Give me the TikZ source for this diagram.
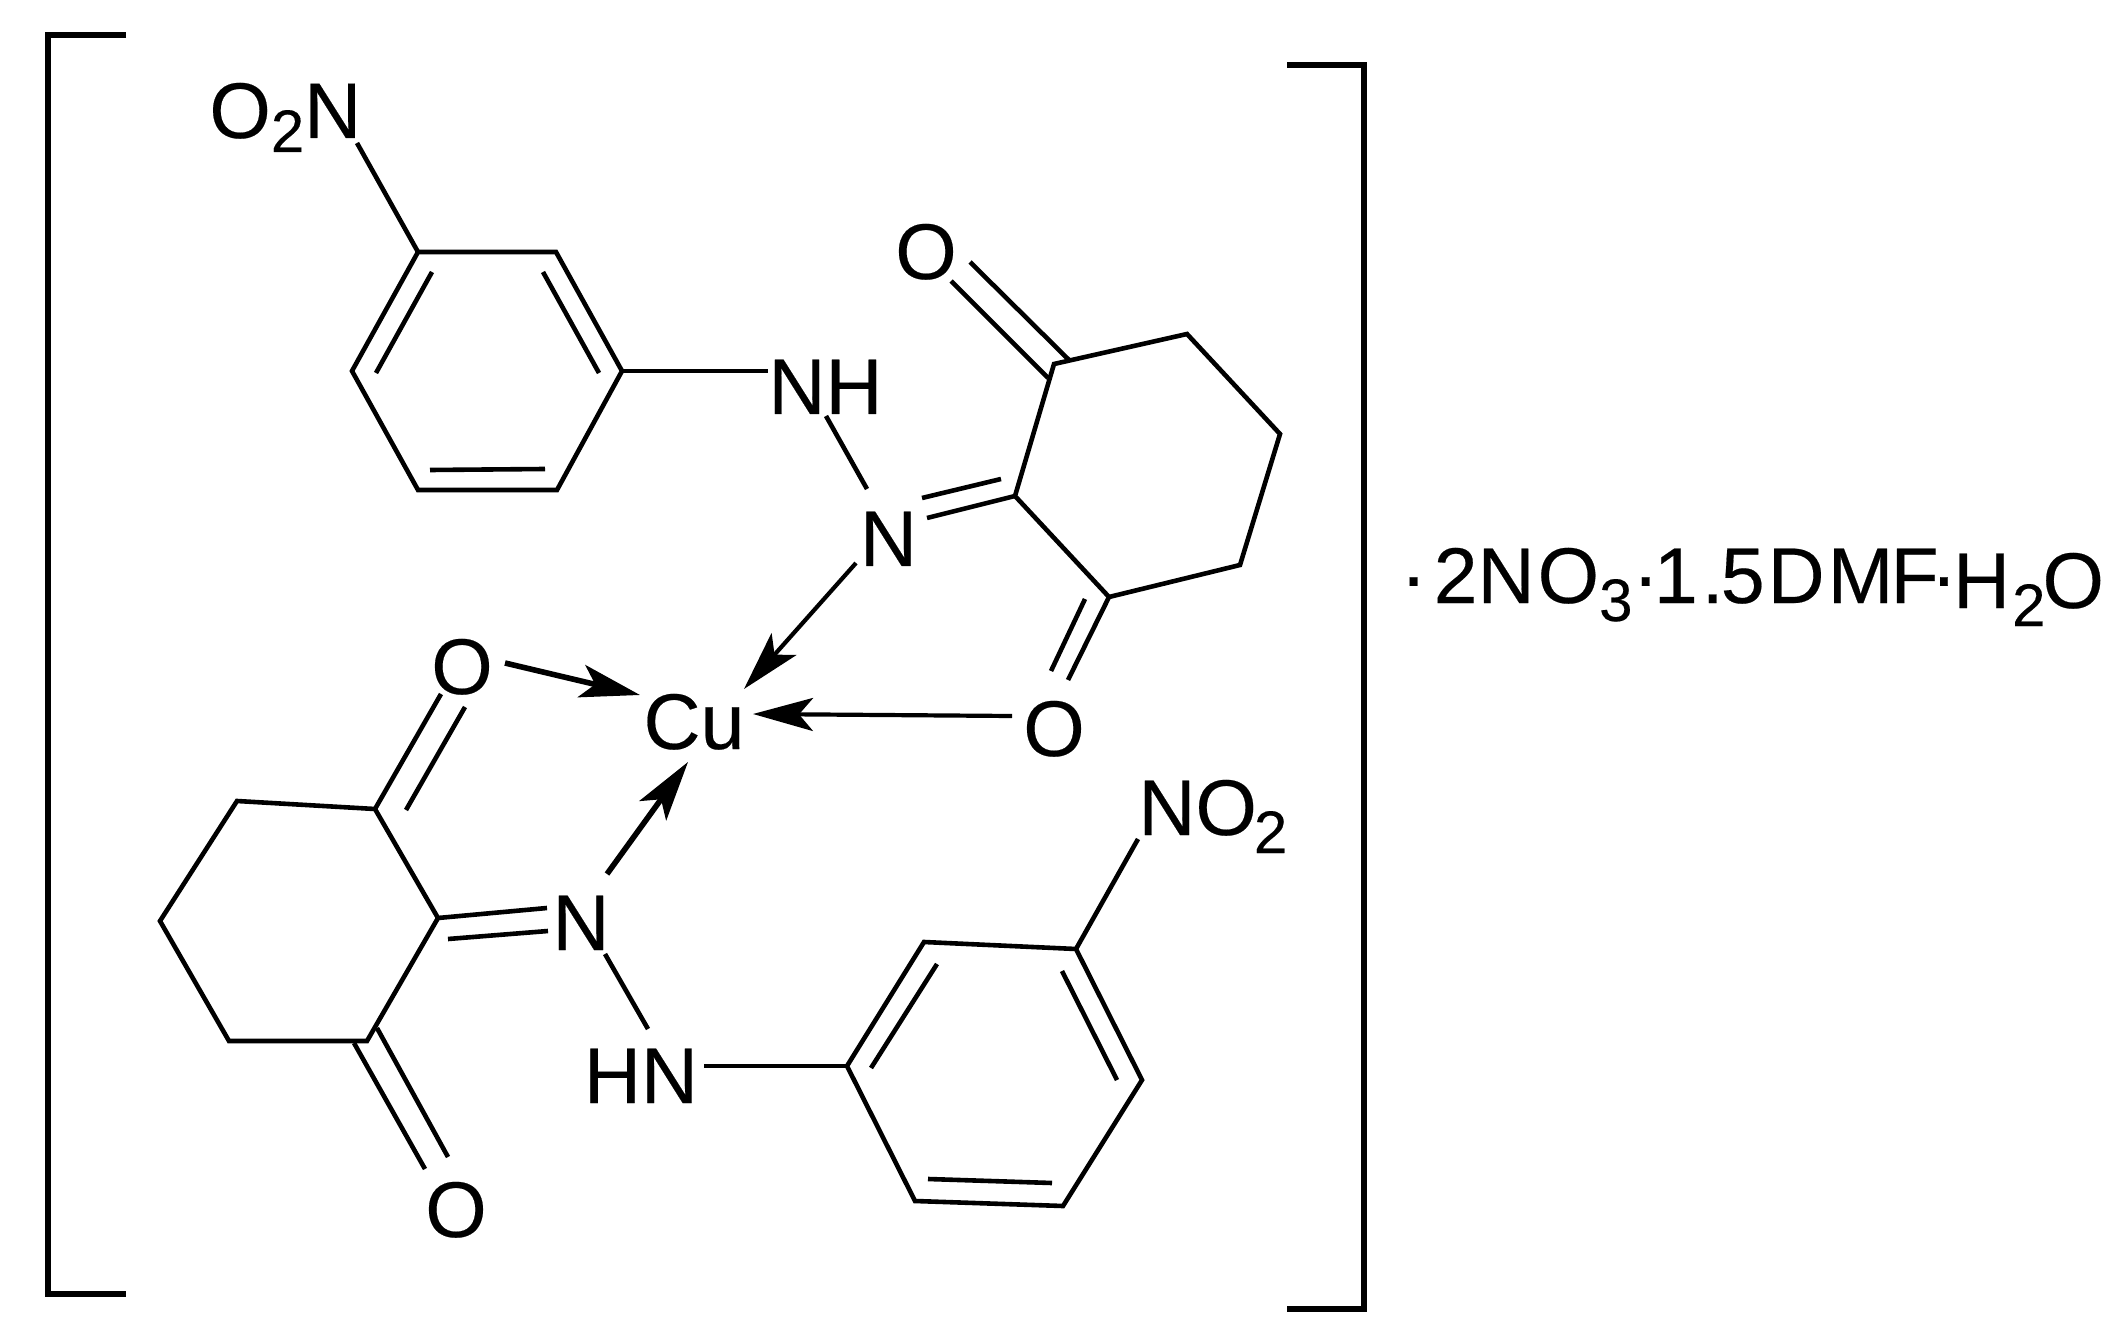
\documentclass[tikz,border=0pt]{standalone}
\usepackage{fontspec}
\setmainfont[FakeBold=0.25]{Liberation Sans}
\usetikzlibrary{arrows.meta}

\newcommand{\lowdigit}[2]{\raisebox{-#1pt}{\fontsize{30}{30}\selectfont #2}}

\begin{document}
\begin{tikzpicture}[x=0.5pt,y=-0.5pt]
\tikzset{atom/.style={inner sep=0pt,anchor=base,font=\fontsize{39.5}{41}\selectfont}}
\tikzset{bond/.style={line width=2.3pt}}
\tikzset{brack/.style={line width=3pt}}
\tikzset{dative/.style={-{Stealth[length=30pt,width=16.5pt,inset=7pt]}}}

\useasboundingbox (0,0) rectangle (2124,1320);

% labels
\node[atom,anchor=base west] (nitroa) at (209,138) {O\lowdigit{7}{2}N};
\node[atom,anchor=base west] (nha) at (768,414) {NH};
\node[atom] (na) at (888.5,566) {N};
\node[atom] (oa) at (926,279) {O};
\node[atom] (ob) at (1054,756) {O};
\node[atom] (cu) at (694,749) {Cu};
\node[atom] (oc) at (462,694) {O};
\node[atom] (nb) at (581,950) {N};
\node[atom] (nhb) at (641,1103) {HN};
\node[atom] (od) at (456,1237) {O};
\node[atom,anchor=base west] (nitrob) at (1138,835) {NO\kern-1.5pt\lowdigit{9}{2}};
\node[atom,anchor=base west] (salts) at (1400,603) {·\kern3.5pt 2N\kern1.5pt O\lowdigit{9}{3}·\kern-2.5pt 1\kern2pt .\kern-1.5pt 5\kern1.5pt D\kern1.5pt M\kern-1.5pt F\kern-4pt ·\kern-2pt\raisebox{-2.5pt}{H\kern1pt\lowdigit{9}{2}\kern-1.5pt O}};

% upper phenyl ring
\coordinate (a1) at (418,252); \coordinate (a2) at (556,252); \coordinate (a3) at (622,371);
\coordinate (a4) at (557,490); \coordinate (a5) at (418,490); \coordinate (a6) at (352,371);
\draw[bond] (a1) -- (a2) -- (a3) -- (a4) -- (a5) -- (a6) -- cycle;
\coordinate (a7) at (432,272); \coordinate (a8) at (376,373);
\coordinate (a9) at (543,272); \coordinate (a10) at (599,373);
\coordinate (a11) at (430,470); \coordinate (a12) at (545,469);
\draw[bond] (a7) -- (a8);
\draw[bond] (a9) -- (a10);
\draw[bond] (a11) -- (a12);
\coordinate (a13) at (357,143);
\draw[bond] (a13) -- (a1);
\coordinate (a14) at (768,371);
\draw[bond] (a3) -- (a14);
\coordinate (a15) at (826,416); \coordinate (a16) at (867,489);
\draw[bond] (a15) -- (a16);

% upper six ring
\coordinate (c1) at (1054,364); \coordinate (c2) at (1187,334); \coordinate (c3) at (1280,434);
\coordinate (c4) at (1240,565); \coordinate (c5) at (1109,597); \coordinate (c6) at (1015,496);
\draw[bond] (c1) -- (c2) -- (c3) -- (c4) -- (c5) -- (c6) -- cycle;
\coordinate (c7) at (970,262); \coordinate (c8) at (1069,360);
\coordinate (c9) at (951,281); \coordinate (c10) at (1048,378);
\draw[bond] (c7) -- (c8);
\draw[bond] (c9) -- (c10);
\coordinate (c11) at (922,498); \coordinate (c12) at (1001,479); \coordinate (c13) at (927,518);
\draw[bond] (c11) -- (c12);
\draw[bond] (c13) -- (c6);
\coordinate (c14) at (1068,680); \coordinate (c15) at (1085,599); \coordinate (c16) at (1051,671);
\draw[bond] (c5) -- (c14);
\draw[bond] (c15) -- (c16);

% lower six ring
\coordinate (d1) at (375,809); \coordinate (d2) at (237,801); \coordinate (d3) at (160,921);
\coordinate (d4) at (229,1041); \coordinate (d5) at (367,1041); \coordinate (d6) at (438,918);
\draw[bond] (d1) -- (d2) -- (d3) -- (d4) -- (d5) -- (d6) -- cycle;
\coordinate (d7) at (441,694); \coordinate (d8) at (406,810); \coordinate (d9) at (465,707);
\draw[bond] (d1) -- (d7);
\draw[bond] (d8) -- (d9);
\coordinate (d10) at (547,908); \coordinate (d11) at (448,939); \coordinate (d12) at (548,931);
\draw[bond] (d6) -- (d10);
\draw[bond] (d11) -- (d12);
\coordinate (d13) at (377,1028); \coordinate (d14) at (448,1157);
\coordinate (d15) at (354,1043); \coordinate (d16) at (425,1169);
\draw[bond] (d13) -- (d14);
\draw[bond] (d15) -- (d16);
\coordinate (d17) at (605,954); \coordinate (d18) at (648,1029);
\draw[bond] (d17) -- (d18);

% lower phenyl ring
\coordinate (e1) at (847,1066); \coordinate (e2) at (924,942); \coordinate (e3) at (1076,949);
\coordinate (e4) at (1142,1080); \coordinate (e5) at (1063,1206); \coordinate (e6) at (915,1201);
\draw[bond] (e1) -- (e2) -- (e3) -- (e4) -- (e5) -- (e6) -- cycle;
\coordinate (e7) at (937,964); \coordinate (e8) at (871,1068);
\coordinate (e9) at (1062,971); \coordinate (e10) at (1117,1080);
\coordinate (e11) at (928,1179); \coordinate (e12) at (1052,1183);
\draw[bond] (e7) -- (e8);
\draw[bond] (e9) -- (e10);
\draw[bond] (e11) -- (e12);
\coordinate (e13) at (1138,839);
\draw[bond] (e3) -- (e13);
\coordinate (e14) at (704,1066);
\draw[bond] (e14) -- (e1);

% arrows onto Cu
\coordinate (f1) at (856,563); \coordinate (f2) at (744,689);
\coordinate (f3) at (505,663); \coordinate (f4) at (640,695);
\coordinate (f5) at (1012,716); \coordinate (f6) at (753,714);
\coordinate (f7) at (607,874); \coordinate (f8) at (688,762);
\draw[dative,line width=2.1pt] (f1) -- (f2);
\draw[dative,line width=2.8pt] (f3) -- (f4);
\draw[dative,line width=2.1pt] (f5) -- (f6);
\draw[dative,line width=2.8pt] (f7) -- (f8);

% square brackets
\coordinate (g1) at (126,35); \coordinate (g2) at (48,35); \coordinate (g3) at (48,1294); \coordinate (g4) at (126,1294);
\coordinate (h1) at (1287,65); \coordinate (h2) at (1364,65); \coordinate (h3) at (1364,1309); \coordinate (h4) at (1287,1309);
\draw[brack] (g1) -- (g2) -- (g3) -- (g4);
\draw[brack] (h1) -- (h2) -- (h3) -- (h4);
\end{tikzpicture}
\end{document}
